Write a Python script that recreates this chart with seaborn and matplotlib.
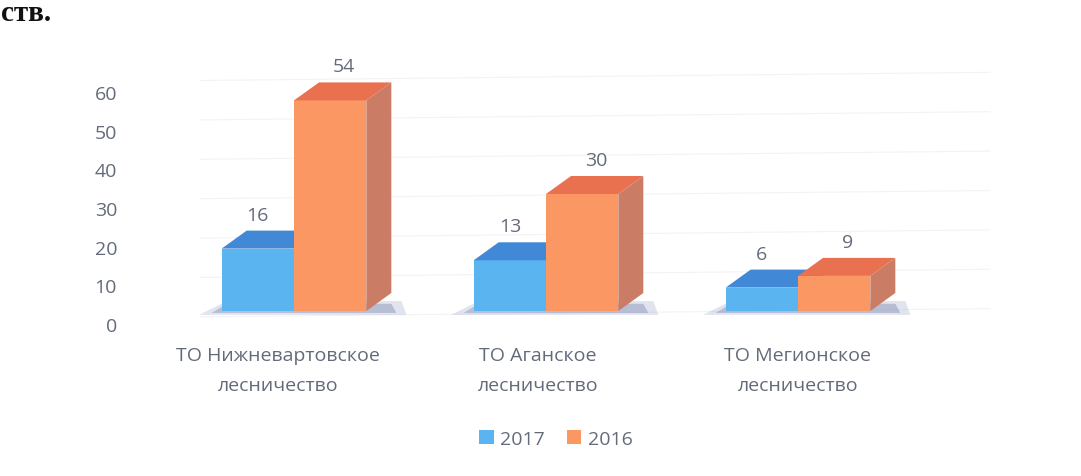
import numpy as np
import pandas as pd
import matplotlib
matplotlib.use("Agg")
import matplotlib.pyplot as plt
import matplotlib.transforms as mtransforms
from matplotlib.patches import Polygon, Patch
import seaborn as sns

# ---- data ----
categories = ["ТО Нижневартовское\nлесничество", "ТО Аганское\nлесничество", "ТО Мегионское\nлесничество"]
series_names = ["2017", "2016"]
values_2017 = [16, 13, 6]
values_2016 = [54, 30, 9]
y_ticks = [0, 10, 20, 30, 40, 50, 60]

df = pd.DataFrame({
    "cat": categories * 2,
    "year": [series_names[0]] * 3 + [series_names[1]] * 3,
    "val": values_2017 + values_2016,
})

front = {"2017": "#5ab4f0", "2016": "#fa9762"}
top = {"2017": "#4189d6", "2016": "#ea7150"}
side = {"2017": "#3a7fc4", "2016": "#cb7c64"}
text_col = "#636b7a"
FS = 14

sns.set_theme(style="white")
plt.rcParams["font.family"] = ["Open Sans", "DejaVu Sans"]

W, H = 1081, 477
fig = plt.figure(figsize=(W / 100, H / 100), dpi=100)
# axes in pixel terms: left 130, right 1000, top 40, bottom 330
ax = fig.add_axes([130 / W, (H - 330) / H, 870 / W, 290 / H])

sns.barplot(data=df, x="cat", y="val", hue="year", hue_order=series_names,
            palette=front, width=0.574, saturation=1, ax=ax, legend=False,
            errorbar=None, edgecolor="none", linewidth=0)

px_x = 252.0  # px per x unit
px_y = 3.9    # px per y unit
x0 = (130 - 294) / px_x
ax.set_xlim(x0, x0 + 870 / px_x)
ax.set_ylim(-18 / px_y, 272 / px_y)

dx = 25 / px_x
dy = 18 / px_y

# very faint back-wall gridlines
for v in y_ticks:
    ax.plot([(200 - 294) / px_x, (990 - 294) / px_x], [v - 1.5 + 0.6 * (v / 60), v + 0.6 + 0.6 * (v / 60)],
            color="#f3f3f6", lw=0.8, zorder=0.5)

patches = list(ax.patches)
n = len(categories)
for i, p in enumerate(patches):
    year = series_names[i // n]
    x, w, h = p.get_x(), p.get_width(), p.get_height()
    z = 2 if year == "2017" else 3
    p.set_zorder(z)
    if year == "2017":
        # soft floor shadow
        sh = Polygon([(x - 0.09, -1.0), (x + 2 * w + dx + 0.06, -1.0),
                      (x + 2 * w + dx + 0.04, dy * 0.55), (x + dx * 0.2, dy * 0.55)],
                     closed=True, facecolor="#7888b4", alpha=0.22, edgecolor="none", zorder=1)
        ax.add_patch(sh)
        sh2 = Polygon([(x - 0.04, -0.5), (x + 2 * w + dx + 0.02, -0.5),
                       (x + 2 * w + dx, dy * 0.4), (x + dx * 0.2, dy * 0.4)],
                      closed=True, facecolor="#4a5c94", alpha=0.28, edgecolor="none", zorder=1)
        ax.add_patch(sh2)
    topf = Polygon([(x, h), (x + w, h), (x + w + dx, h + dy), (x + dx, h + dy)],
                   closed=True, facecolor=top[year], edgecolor="none", zorder=z)
    sidef = Polygon([(x + w, 0), (x + w, h), (x + w + dx, h + dy), (x + w + dx, dy)],
                    closed=True, facecolor=side[year], edgecolor="none", zorder=z)
    ax.add_patch(topf)
    ax.add_patch(sidef)
    lx = x + w / 2 + (0 if year == "2017" else dx * 0.55)
    ax.annotate(f"{h:g}", (lx, h + dy), xytext=(0, 5), textcoords="offset points",
                ha="center", va="bottom", fontsize=FS, color=text_col, zorder=5)

# y labels (printed on the floor-offset scale)
ax.set_yticks([])
ax.set_ylabel("")
ylab_tr = mtransforms.offset_copy(
    mtransforms.blended_transform_factory(fig.transFigure, ax.transData),
    fig=fig, x=0, y=-15, units="dots")
for v in y_ticks:
    ax.text(117 / W, v * 0.992, f"{v}", transform=ylab_tr, ha="right", va="center",
            fontsize=FS, color=text_col)

ax.set_xlabel("")
ax.tick_params(axis="x", length=0, pad=12, labelsize=FS, labelcolor=text_col)
shifts = [-16, -8, 0]
for lbl, s in zip(ax.get_xticklabels(), shifts):
    lbl.set_linespacing(1.85)
    lbl.set_transform(lbl.get_transform() + mtransforms.Affine2D().translate(s, 0))
for s in ax.spines.values():
    s.set_visible(False)

# legend
handles = [Patch(facecolor=front[s], edgecolor="none", label=s) for s in series_names]
fig.legend(handles=handles, loc="center", bbox_to_anchor=(556 / W, (H - 440) / H),
           ncol=2, frameon=False, fontsize=FS, labelcolor=text_col,
           handlelength=0.75, handleheight=0.75, handletextpad=0.35, columnspacing=1.1)

# heading fragment at the top-left
fig.text(1 / W, (H - 21) / H, "ств.", fontsize=21, fontweight="bold",
         family="Liberation Serif", color="#111111", ha="left", va="baseline")

fig.savefig("out.png", dpi=100)
